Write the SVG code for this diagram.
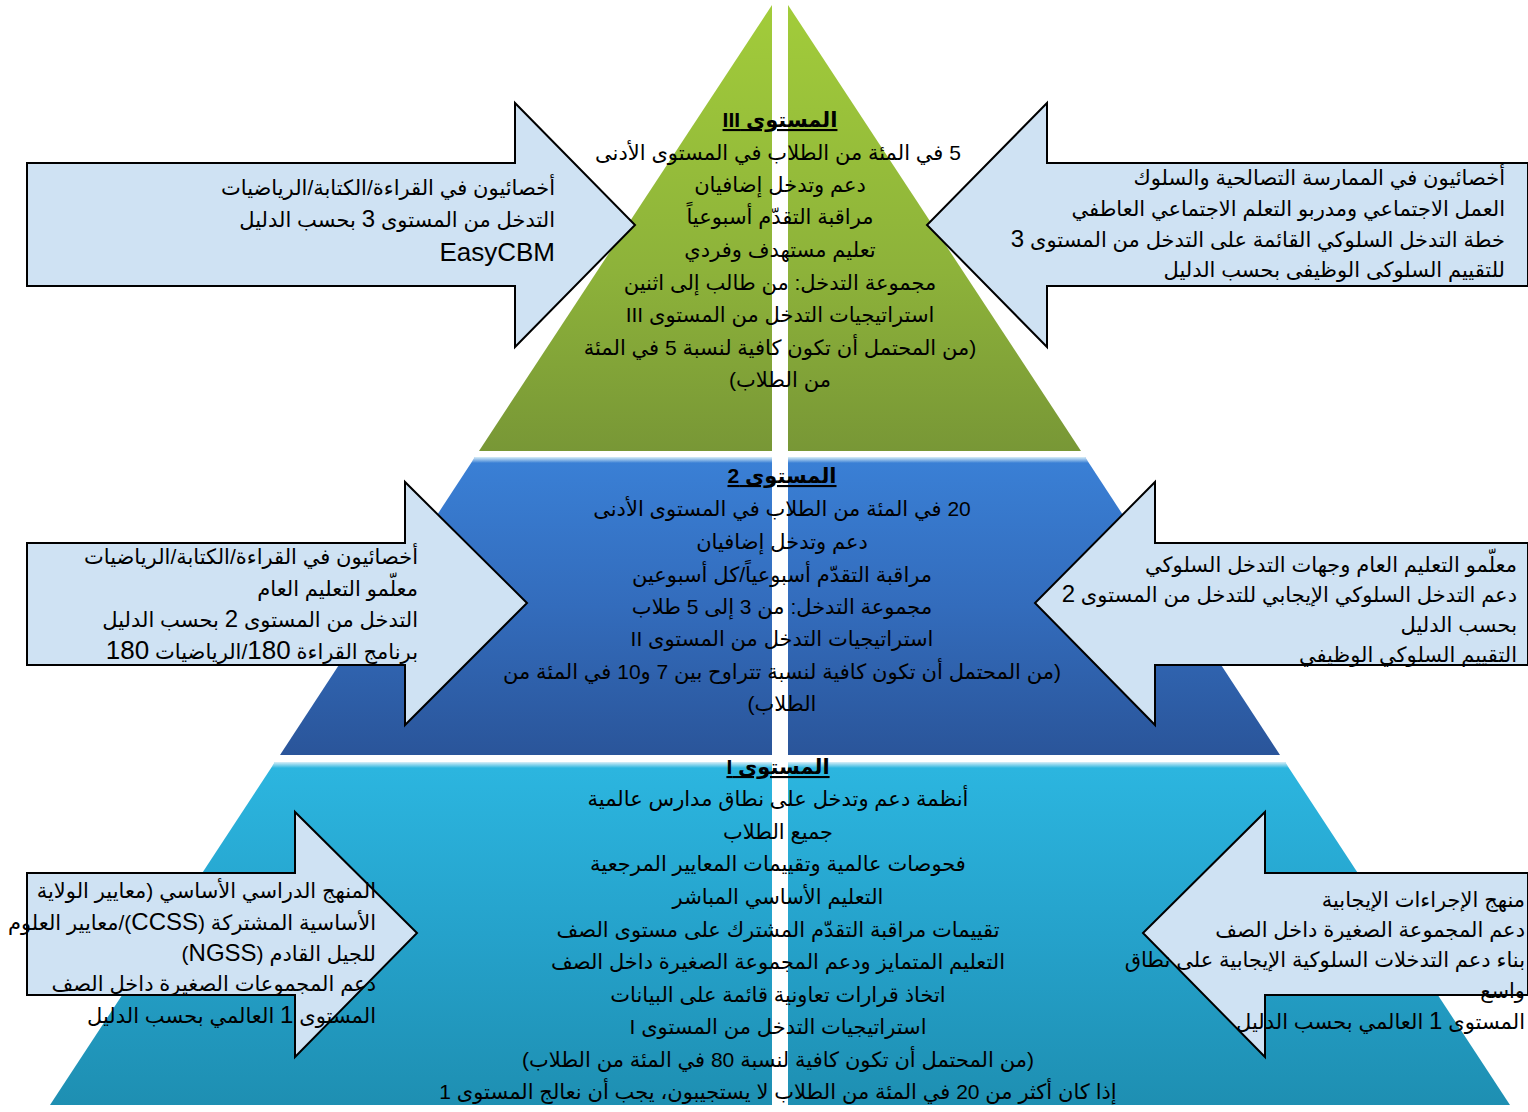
<svg xmlns="http://www.w3.org/2000/svg" width="1528" height="1112" viewBox="0 0 1528 1112">
<defs>
<linearGradient id="gGreen" x1="0" y1="0" x2="0" y2="1">
<stop offset="0" stop-color="#a2cc3a"/>
<stop offset="0.6" stop-color="#8db23a"/>
<stop offset="1" stop-color="#789736"/>
</linearGradient>
<linearGradient id="gBlue" x1="0" y1="0" x2="0" y2="1">
<stop offset="0" stop-color="#3a80d6"/>
<stop offset="0.5" stop-color="#336cbc"/>
<stop offset="1" stop-color="#2a559a"/>
</linearGradient>
<linearGradient id="gCyan" x1="0" y1="0" x2="0" y2="1">
<stop offset="0" stop-color="#2cb6e0"/>
<stop offset="0.5" stop-color="#25a2cb"/>
<stop offset="1" stop-color="#1e8fb2"/>
</linearGradient>
<linearGradient id="gShine" x1="0" y1="0" x2="0" y2="1">
<stop offset="0" stop-color="#d8eef8"/>
<stop offset="1" stop-color="#d8eef8" stop-opacity="0"/>
</linearGradient>
<style>
.arrow{fill:#cfe2f3;stroke:#000;stroke-width:2;stroke-linejoin:miter}
.at{font-family:'Liberation Sans','DejaVu Sans',sans-serif;font-size:21px;fill:#000}
.pt{font-family:'Liberation Sans','DejaVu Sans',sans-serif;font-size:21px;fill:#000;text-anchor:middle}
.ttl{font-weight:bold;text-decoration:underline}
.lt{font-size:24px}
.big{font-size:26px}
</style>
</defs>
<rect width="1528" height="1112" fill="#fff"/>

<g id="tier3">
<polygon points="772,5 788,5 1081,451 479,451" fill="url(#gGreen)"/>
</g>
<g id="tier2">
<polygon points="475,457 1085,457 1280,755 280,755" fill="url(#gBlue)"/>
<polygon points="475,457 1085,457 1089,463 471,463" fill="url(#gShine)"/>
</g>
<g id="tier1">
<polygon points="275,762 1285,762 1510,1105 50,1105" fill="url(#gCyan)"/>
<polygon points="275,762 1285,762 1289,768 271,768" fill="url(#gShine)"/>
</g>
<rect id="divider" x="772" y="0" width="16" height="1108" fill="#fff"/>

<g id="tier3-text" direction="rtl">
<text class="pt ttl" x="780" y="127">المستوى III</text>
<text class="pt" x="778" y="160">5 في المئة من الطلاب في المستوى الأدنى</text>
<text class="pt" x="780" y="192">دعم وتدخل إضافيان</text>
<text class="pt" x="780" y="224">مراقبة التقدّم أسبوعياً</text>
<text class="pt" x="780" y="257">تعليم مستهدف وفردي</text>
<text class="pt" x="780" y="290">مجموعة التدخل: من طالب إلى اثنين</text>
<text class="pt" x="780" y="322">استراتيجيات التدخل من المستوى III</text>
<text class="pt" x="780" y="355">(من المحتمل أن تكون كافية لنسبة 5 في المئة</text>
<text class="pt" x="780" y="387">من الطلاب)</text>
</g>
<g id="tier2-text" direction="rtl">
<text class="pt ttl" x="782" y="483">المستوى 2</text>
<text class="pt" x="782" y="516">20 في المئة من الطلاب في المستوى الأدنى</text>
<text class="pt" x="782" y="549">دعم وتدخل إضافيان</text>
<text class="pt" x="782" y="582">مراقبة التقدّم أسبوعياً/كل أسبوعين</text>
<text class="pt" x="782" y="614">مجموعة التدخل: من 3 إلى 5 طلاب</text>
<text class="pt" x="782" y="646">استراتيجيات التدخل من المستوى II</text>
<text class="pt" x="782" y="679">(من المحتمل أن تكون كافية لنسبة تتراوح بين 7 و10 في المئة من</text>
<text class="pt" x="782" y="711">الطلاب)</text>
</g>
<g id="tier1-text" direction="rtl">
<text class="pt ttl" x="778" y="774">المستوى I</text>
<text class="pt" x="778" y="806">أنظمة دعم وتدخل على نطاق مدارس عالمية</text>
<text class="pt" x="778" y="839">جميع الطلاب</text>
<text class="pt" x="778" y="871">فحوصات عالمية وتقييمات المعايير المرجعية</text>
<text class="pt" x="778" y="904">التعليم الأساسي المباشر</text>
<text class="pt" x="778" y="937">تقييمات مراقبة التقدّم المشترك على مستوى الصف</text>
<text class="pt" x="778" y="969">التعليم المتمايز ودعم المجموعة الصغيرة داخل الصف</text>
<text class="pt" x="778" y="1002">اتخاذ قرارات تعاونية قائمة على البيانات</text>
<text class="pt" x="778" y="1034">استراتيجيات التدخل من المستوى I</text>
<text class="pt" x="778" y="1067">(من المحتمل أن تكون كافية لنسبة 80 في المئة من الطلاب)</text>
<text class="pt" x="778" y="1099">إذا كان أكثر من 20 في المئة من الطلاب لا يستجيبون، يجب أن نعالج المستوى 1</text>
</g>

<g id="arrow-top-left">
<polygon class="arrow" points="27,163 515,163 515,103 635,225 515,347 515,286 27,286"/>
<g direction="rtl">
<text class="at" x="555" y="195">أخصائيون في القراءة/الكتابة/الرياضيات</text>
<text class="at" x="555" y="227">التدخل من المستوى <tspan class="lt">3</tspan> بحسب الدليل</text>
<text class="at" x="555" y="261"><tspan class="big">EasyCBM</tspan></text>
</g>
</g>
<g id="arrow-top-right">
<polygon class="arrow" points="1528,163 1047,163 1047,103 927,225 1047,347 1047,286 1528,286"/>
<g direction="rtl">
<text class="at" x="1505" y="185">أخصائيون في الممارسة التصالحية والسلوك</text>
<text class="at" x="1505" y="216">العمل الاجتماعي ومدربو التعلم الاجتماعي العاطفي</text>
<text class="at" x="1505" y="247">خطة التدخل السلوكي القائمة على التدخل من المستوى <tspan class="lt">3</tspan></text>
<text class="at" x="1505" y="277">للتقييم السلوكى الوظيفى بحسب الدليل</text>
</g>
</g>
<g id="arrow-mid-left">
<polygon class="arrow" points="27,543 405,543 405,482 527,603 405,725 405,665 27,665"/>
<g direction="rtl">
<text class="at" x="418" y="564">أخصائيون في القراءة/الكتابة/الرياضيات</text>
<text class="at" x="418" y="596">معلّمو التعليم العام</text>
<text class="at" x="418" y="627">التدخل من المستوى <tspan class="lt">2</tspan> بحسب الدليل</text>
<text class="at" x="418" y="659">برنامج القراءة <tspan class="big">180</tspan>/الرياضيات <tspan class="big">180</tspan></text>
</g>
</g>
<g id="arrow-mid-right">
<polygon class="arrow" points="1528,543 1155,543 1155,482 1035,603 1155,725 1155,665 1528,665"/>
<g direction="rtl">
<text class="at" x="1517" y="572">معلّمو التعليم العام وجهات التدخل السلوكي</text>
<text class="at" x="1517" y="602">دعم التدخل السلوكي الإيجابي للتدخل من المستوى <tspan class="lt">2</tspan></text>
<text class="at" x="1517" y="632">بحسب الدليل</text>
<text class="at" x="1517" y="662">التقييم السلوكي الوظيفي</text>
</g>
</g>
<g id="arrow-bottom-left">
<polygon class="arrow" points="27,873 295,873 295,812 417,933 295,1057 295,995 27,995"/>
<g direction="rtl">
<text class="at" x="376" y="898">المنهج الدراسي الأساسي (معايير الولاية</text>
<text class="at" x="376" y="930">الأساسية المشتركة (<tspan class="lt">CCSS</tspan>)/معايير العلوم</text>
<text class="at" x="376" y="961">للجيل القادم (<tspan class="lt">NGSS</tspan>)</text>
<text class="at" x="376" y="991">دعم المجموعات الصغيرة داخل الصف</text>
<text class="at" x="376" y="1023">المستوى <tspan class="lt">1</tspan> العالمي بحسب الدليل</text>
</g>
</g>
<g id="arrow-bottom-right">
<polygon class="arrow" points="1528,873 1265,873 1265,812 1143,933 1265,1057 1265,995 1528,995"/>
<g direction="rtl">
<text class="at" x="1525" y="907">منهج الإجراءات الإيجابية</text>
<text class="at" x="1525" y="937">دعم المجموعة الصغيرة داخل الصف</text>
<text class="at" x="1525" y="967">بناء دعم التدخلات السلوكية الإيجابية على نطاق</text>
<text class="at" x="1525" y="998">واسع</text>
<text class="at" x="1525" y="1029">المستوى <tspan class="lt">1</tspan> العالمي بحسب الدليل</text>
</g>
</g>
<g id="connectors"/>
</svg>
